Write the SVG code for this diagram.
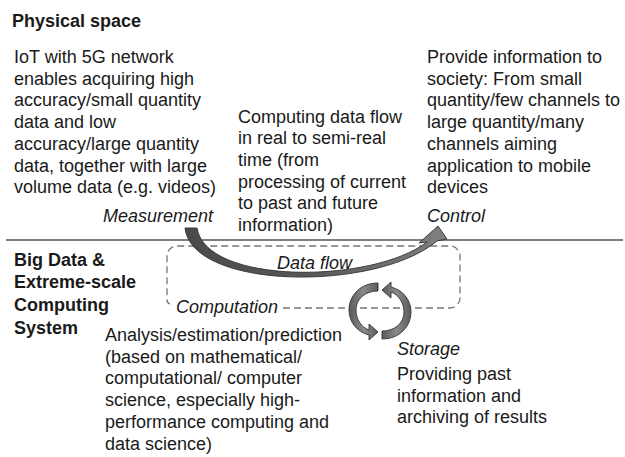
<svg xmlns="http://www.w3.org/2000/svg" width="625" height="457" viewBox="0 0 625 457">
<style>
text{font-family:"Liberation Sans",Arial,sans-serif;fill:#1a1a1a}
.r{font-size:18px}
.i{font-size:18px;font-style:italic}
.b{font-size:18px;font-weight:bold}
.dash{fill:none;stroke:#777;stroke-width:1.3;stroke-dasharray:7 4}
.arr{stroke:#333;stroke-width:0.9;stroke-linejoin:round}
</style>
<defs>
<linearGradient id="gflow" x1="0" y1="0" x2="1" y2="0">
<stop offset="0" stop-color="#4a4a4a"/>
<stop offset="0.5" stop-color="#5a5a5a"/>
<stop offset="1" stop-color="#808080"/>
</linearGradient>
<linearGradient id="gcyc" x1="0" y1="0" x2="1" y2="0">
<stop offset="0" stop-color="#5a5a5a"/>
<stop offset="0.5" stop-color="#8a8a8a"/>
<stop offset="1" stop-color="#5a5a5a"/>
</linearGradient>
</defs>
<rect width="625" height="457" fill="#fff"/>

<line x1="6" y1="240" x2="623" y2="240" stroke="#555" stroke-width="1.5"/>
<path class="dash" d="M283,308 H450 A10,10 0 0 0 460,298 V256 A10,10 0 0 0 450,246 H177 A10,10 0 0 0 167,256 V300 Q167,303 170,304"/>

<g id="physical-space"><text class="b" x="12" y="27">Physical space</text></g>

<g id="measurement-desc">
<text class="r" x="14" y="63">IoT with 5G network</text>
<text class="r" x="14" y="84.7">enables acquiring high</text>
<text class="r" x="14" y="106.4">accuracy/small quantity</text>
<text class="r" x="14" y="128.1">data and low</text>
<text class="r" x="14" y="149.8">accuracy/large quantity</text>
<text class="r" x="14" y="171.5">data, together with large</text>
<text class="r" x="14" y="193.2">volume data (e.g. videos)</text>
</g>
<g id="measurement"><text class="i" x="213" y="222" text-anchor="end">Measurement</text></g>

<g id="flow-desc">
<text class="r" x="238" y="122.5">Computing data flow</text>
<text class="r" x="238" y="144.2">in real to semi-real</text>
<text class="r" x="238" y="165.9">time (from</text>
<text class="r" x="238" y="187.6">processing of current</text>
<text class="r" x="238" y="209.3">to past and future</text>
<text class="r" x="238" y="231">information)</text>
</g>

<g id="control-desc">
<text class="r" x="427" y="63">Provide information to</text>
<text class="r" x="427" y="84.7">society: From small</text>
<text class="r" x="427" y="106.4">quantity/few channels to</text>
<text class="r" x="427" y="128.1">large quantity/many</text>
<text class="r" x="427" y="149.8">channels aiming</text>
<text class="r" x="427" y="171.5">application to mobile</text>
<text class="r" x="427" y="193.2">devices</text>
</g>
<g id="control"><text class="i" x="427" y="222">Control</text></g>

<g id="bigdata">
<text class="b" x="14" y="265.5">Big Data &amp;</text>
<text class="b" x="14" y="288.3">Extreme-scale</text>
<text class="b" x="14" y="311">Computing</text>
<text class="b" x="14" y="333.8">System</text>
</g>

<g id="data-flow-label"><text class="i" x="277" y="268.5">Data flow</text></g>
<g id="computation"><text class="i" x="176" y="313">Computation</text></g>

<g id="computation-desc">
<text class="r" x="105" y="341">Analysis/estimation/prediction</text>
<text class="r" x="105" y="362.7">(based on mathematical/</text>
<text class="r" x="105" y="384.4">computational/ computer</text>
<text class="r" x="105" y="406.1">science, especially high-</text>
<text class="r" x="105" y="427.8">performance computing and</text>
<text class="r" x="105" y="449.5">data science)</text>
</g>

<g id="storage"><text class="i" x="397" y="354.5">Storage</text></g>
<g id="storage-desc">
<text class="r" x="397" y="380">Providing past</text>
<text class="r" x="397" y="401.7">information and</text>
<text class="r" x="397" y="423.4">archiving of results</text>
</g>

<g id="connectors">
<path class="arr" fill="url(#gflow)" d="M185,228 C192,290 376,292 437,241 L447,239 L438,226 L419,243 L427,242 C372,284 206,285 197,228 Z"/>
<path class="arr" fill="url(#gcyc)" d="M378,283 C360,283 349,296 349,310 C349,322 357,332 369,335 L369,340 L378,332 L369,324 L369,330 C361,327 356,319 356,310 C356,299 365,291 378,291 Z"/>
<path class="arr" fill="url(#gcyc)" d="M382,339 C400,339 411,326 411,312 C411,300 403,290 391,287 L391,282 L382,290 L391,298 L391,292 C399,295 404,303 404,312 C404,323 395,331 382,331 Z"/>
</g>
</svg>
